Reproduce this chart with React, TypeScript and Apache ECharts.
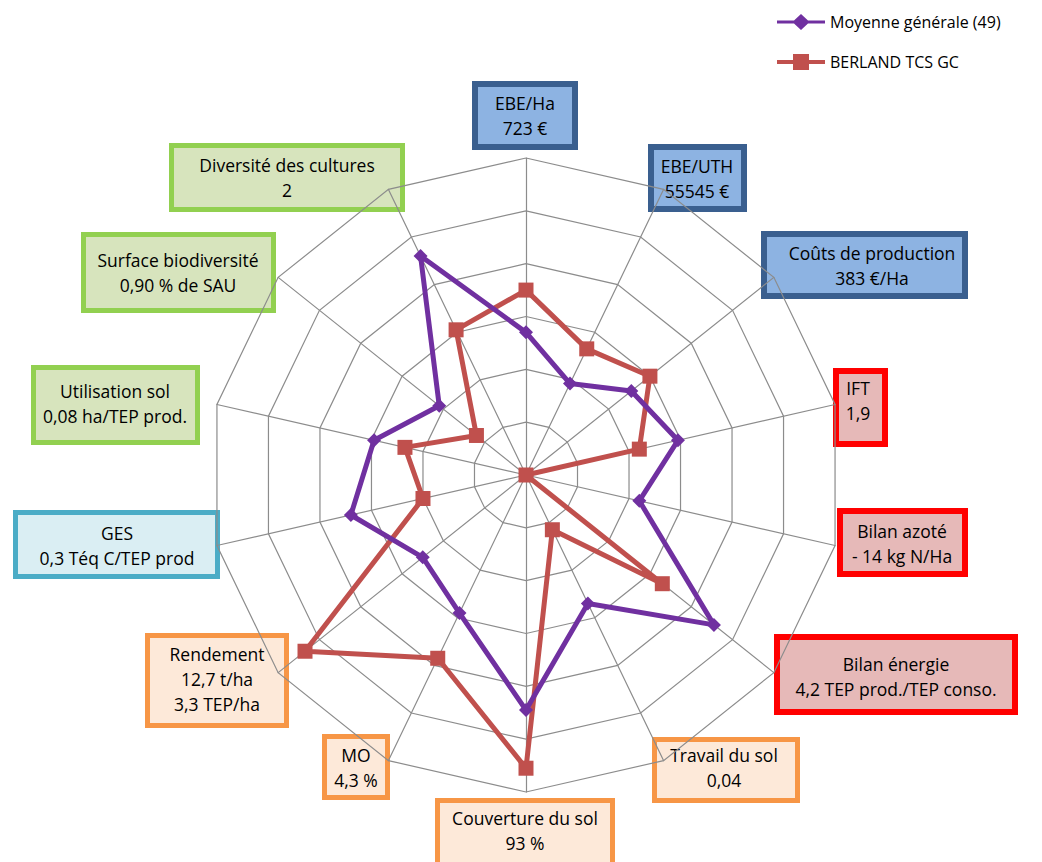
import React, { useEffect, useRef } from "react";
import * as echarts from "echarts";

// Axes, clockwise from the top
const categories = [
  "EBE/Ha",
  "EBE/UTH",
  "Coûts de production",
  "IFT",
  "Bilan azoté",
  "Bilan énergie",
  "Travail du sol",
  "Couverture du sol",
  "MO",
  "Rendement",
  "GES",
  "Utilisation sol",
  "Surface biodiversité",
  "Diversité des cultures",
];

const axisValueLabels = [
  "723 €",
  "55545 €",
  "383 €/Ha",
  "1,9",
  "- 14 kg N/Ha",
  "4,2 TEP prod./TEP conso.",
  "0,04",
  "93 %",
  "4,3 %",
  "12,7 t/ha\n3,3 TEP/ha",
  "0,3 Téq C/TEP prod",
  "0,08 ha/TEP prod.",
  "0,90 % de SAU",
  "2",
];

const seriesNames = ["Moyenne générale (49)", "BERLAND TCS GC"];
const moyenne = [2.7, 1.92, 2.55, 2.95, 2.2, 4.55, 2.7, 4.45, 2.9, 2.5, 3.4, 2.95, 2.1, 4.6];
const berland = [3.5, 2.65, 3.0, 2.2, 0, 3.3, 1.15, 5.55, 3.85, 5.35, 2.0, 2.35, 1.2, 3.05];

const scaleMax = 6;

// label box layout: [x1, y1, x2, y2, textCx, textCy, style]
const BLUE: [string, string, number] = ["#3A5F8F", "#8DB3E2", 6];
const RED: [string, string, number] = ["#FF0000", "#E6B9B8", 6];
const ORANGE: [string, string, number] = ["#F79646", "#FDE9D9", 5];
const TEAL: [string, string, number] = ["#4BACC6", "#DAEEF3", 5];
const GREEN: [string, string, number] = ["#92D050", "#D7E4BD", 5];

const boxLayout: [number, number, number, number, number, number, [string, string, number]][] = [
  [472, 81, 578, 150, 525, 115, BLUE],
  [648, 144, 747, 212, 697, 178, BLUE],
  [761, 231, 968, 299, 872, 265, BLUE],
  [833, 368, 888, 447, 858, 400, RED],
  [837, 508, 968, 577, 902, 543, RED],
  [774, 634, 1018, 715, 896, 676, RED],
  [652, 737, 800, 803, 724, 767, ORANGE],
  [435, 798, 615, 880, 525, 830, ORANGE],
  [322, 734, 390, 800, 356, 767, ORANGE],
  [145, 633, 289, 728, 217, 679, ORANGE],
  [13, 510, 220, 579, 117, 545, TEAL],
  [31, 365, 200, 445, 115, 403, GREEN],
  [81, 232, 276, 313, 178, 272, GREEN],
  [169, 143, 405, 212, 287, 177, GREEN],
];

const FONT = "'Open Sans', 'Noto Sans', sans-serif";

export default function App() {
  const ref = useRef<HTMLDivElement>(null);

  useEffect(() => {
    if (!ref.current) return;
    const chart = echarts.init(ref.current, null, { renderer: "svg" });

    // ECharts lays radar indicators counter-clockwise; reorder to get clockwise
    const order = [0, ...categories.slice(1).map((_, i) => categories.length - 1 - i)];

    const graphicEls: any[] = [];
    boxLayout.forEach((b, i) => {
      const [x1, y1, x2, y2, cx, cy, st] = b;
      const lw = st[2];
      graphicEls.push({
        type: "rect",
        z: -10,
        silent: true,
        shape: { x: x1 + lw / 2, y: y1 + lw / 2, width: x2 - x1 - lw, height: y2 - y1 - lw },
        style: { fill: st[1], stroke: st[0], lineWidth: lw },
      });
      graphicEls.push({
        type: "text",
        z: -9,
        silent: true,
        x: cx,
        y: cy,
        style: {
          text: categories[i] + "\n" + axisValueLabels[i],
          fill: "#000",
          font: `17.5px ${FONT}`,
          fontSize: 17.5,
          fontFamily: FONT,
          lineHeight: 25,
          align: "center",
          verticalAlign: "middle",
        },
      });
    });

    chart.setOption({
      animation: false,
      backgroundColor: "#fff",
      legend: {
        orient: "vertical",
        left: 772,
        top: 9,
        itemWidth: 48,
        itemHeight: 16,
        itemGap: 24,
        textStyle: { fontSize: 16, fontFamily: FONT, color: "#000" },
        data: [
          {
            name: seriesNames[0],
            icon: "path://M0,6.5 L17,6.5 L24,0 L31,6.5 L48,6.5 L48,9.5 L31,9.5 L24,16 L17,9.5 L0,9.5 Z",
          },
          {
            name: seriesNames[1],
            icon: "path://M0,6 L16,6 L16,0 L32,0 L32,6 L48,6 L48,10 L32,10 L32,16 L16,16 L16,10 L0,10 Z",
          },
        ],
      },
      radar: {
        center: [526, 475],
        radius: 317,
        shape: "polygon",
        splitNumber: 6,
        startAngle: 90,
        indicator: order.map((i) => ({ name: categories[i], min: 0, max: scaleMax })),
        axisName: { show: false },
        axisLine: { lineStyle: { color: "#8c8c8c", width: 1.2 } },
        splitLine: { lineStyle: { color: "#8c8c8c", width: 1.2 } },
        splitArea: { show: false },
        axisTick: { show: false },
        axisLabel: { show: false },
      },
      graphic: { elements: graphicEls },
      series: [
        {
          type: "radar",
          z: 3,
          data: [
            {
              name: seriesNames[1],
              value: order.map((i) => berland[i]),
              symbol: "rect",
              symbolSize: 15,
              itemStyle: { color: "#C0504D" },
              lineStyle: { color: "#C0504D", width: 5 },
            },
            {
              name: seriesNames[0],
              value: order.map((i) => moyenne[i]),
              symbol: "diamond",
              symbolSize: 14,
              itemStyle: { color: "#7030A0" },
              lineStyle: { color: "#7030A0", width: 5 },
            },
          ],
        },
      ],
    });

    return () => chart.dispose();
  }, []);

  return (
    <div
      ref={ref}
      style={{ position: "fixed", left: 0, top: 0, width: 1042, height: 862 }}
    />
  );
}
